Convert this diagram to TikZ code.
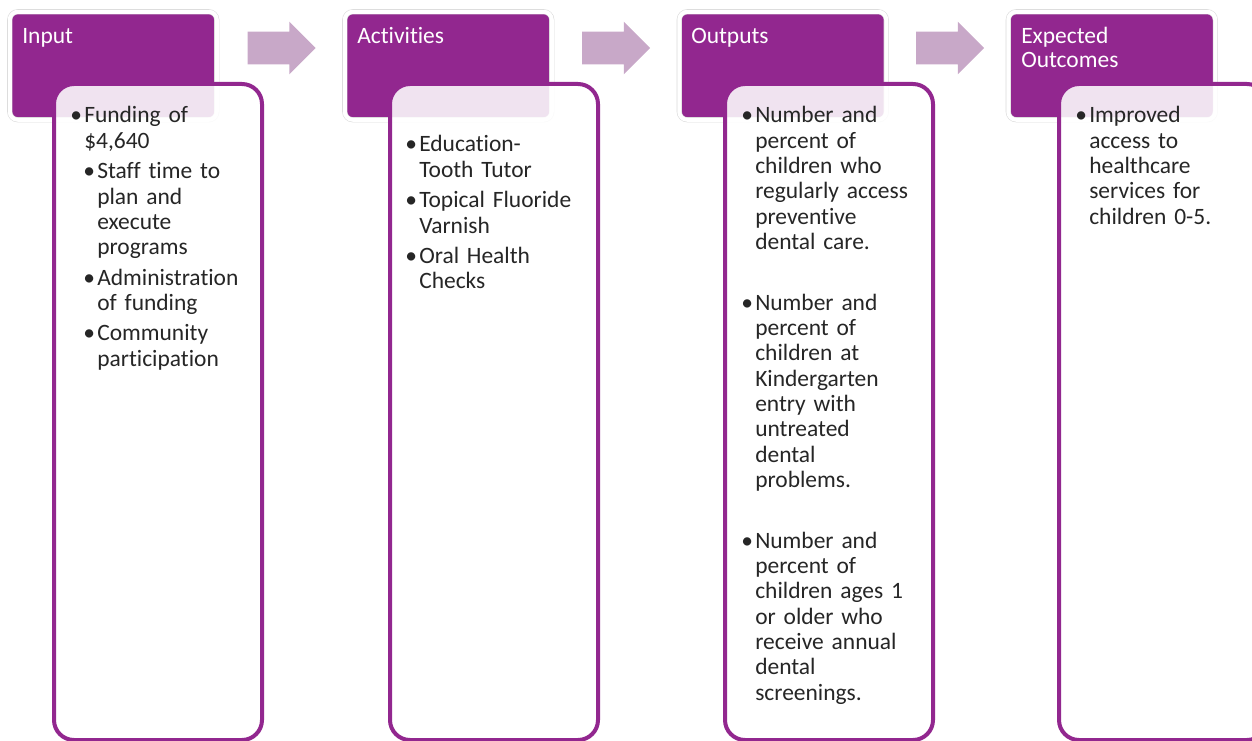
\documentclass[tikz,border=0pt]{standalone}
\usepackage{fontspec}
\setmainfont{Carlito}[Ligatures=CommonOff]
\usetikzlibrary{shapes.arrows}
\definecolor{plum}{HTML}{92278F}
\definecolor{mauve}{HTML}{C8A8C8}
\newcommand\bul{\makebox[10.5pt][l]{\textbullet}}
\newcommand\ind[1]{\hspace*{#1}}

\begin{document}
\begin{tikzpicture}[x=0.75pt, y=-0.75pt,
    hdbox/.style={anchor=north west, fill=plum, draw=black!15, double=white,
      double distance=3pt, line width=0.4pt, rounded corners=6pt,
      minimum width=155.25pt, minimum height=81pt, inner sep=0pt},
    bdbox/.style={anchor=north west, draw=plum, line width=3pt, fill=white,
      fill opacity=0.87, rounded corners=15pt,
      minimum width=156pt, minimum height=492pt, inner sep=0pt},
    hdtext/.style={anchor=base west, inner sep=0pt, text=white, align=left,
      font=\fontsize{17.6pt}{18.5pt}\selectfont},
    bdtext/.style={anchor=base west, inner sep=0pt, text=black!85, align=left,
      text width=200pt, font=\fontsize{17.6pt}{19pt}\selectfont},
    arr/.style={single arrow, fill=mauve, draw=none, single arrow tip angle=90,
      single arrow head extend=7.5pt, minimum height=51pt, minimum width=39pt,
      inner xsep=0pt, inner ysep=12pt}]
  \useasboundingbox (0,0) rectangle (1252,741);
  \clip (0,0) rectangle (1252,741);

  % headers
  \node[hdbox] (hd1) at (9.5,11.5) {};
  \node[hdbox] (hd2) at (344.5,11.5) {};
  \node[hdbox] (hd3) at (679,11.5) {};
  \node[hdbox] (hd4) at (1008,11.5) {};
  \node[hdtext] (t1) at (22,44) {Input};
  \node[hdtext] (t2) at (357,44) {Activities};
  \node[hdtext] (t3) at (691,44) {Outputs};
  \node[hdtext] (t4) at (1021,68) {Expected\\Outcomes};

  % arrows
  \node[arr] (ar1) at (273.5,48) {};
  \node[arr] (ar2) at (608,48) {};
  \node[arr] (ar3) at (942,48) {};

  % bodies
  \node[bdbox] (bd1) at (52,82) {};
  \node[bdbox] (bd2) at (388,82) {};
  \node[bdbox] (bd3) at (723,82) {};
  \node[bdbox] (bd4) at (1057,82) {};

  \node[bdtext] (x1) at (70,123) {\bul Funding of\\
    \ind{10.5pt}\$4,640\\[3.8pt]
    \ind{9.75pt}\bul Staff time to\\
    \ind{20.25pt}plan and\\
    \ind{20.25pt}execute\\
    \ind{20.25pt}programs\\[3.8pt]
    \ind{9.75pt}\bul Administration\\
    \ind{20.25pt}of funding\\[3.8pt]
    \ind{9.75pt}\bul Community\\
    \ind{20.25pt}participation};
  \node[bdtext] (x2) at (405,152) {\bul Education-\\
    \ind{10.5pt}Tooth Tutor\\[3.8pt]
    \bul Topical Fluoride\\
    \ind{10.5pt}Varnish\\[3.8pt]
    \bul Oral Health\\
    \ind{10.5pt}Checks};
  \node[bdtext] (x3) at (741,123) {\bul Number and\\
    \ind{10.5pt}percent of\\
    \ind{10.5pt}children who\\
    \ind{10.5pt}regularly access\\
    \ind{10.5pt}preventive\\
    \ind{10.5pt}dental care.\\[26.4pt]
    \bul Number and\\
    \ind{10.5pt}percent of\\
    \ind{10.5pt}children at\\
    \ind{10.5pt}Kindergarten\\
    \ind{10.5pt}entry with\\
    \ind{10.5pt}untreated\\
    \ind{10.5pt}dental\\
    \ind{10.5pt}problems.\\[26.4pt]
    \bul Number and\\
    \ind{10.5pt}percent of\\
    \ind{10.5pt}children ages 1\\
    \ind{10.5pt}or older who\\
    \ind{10.5pt}receive annual\\
    \ind{10.5pt}dental\\
    \ind{10.5pt}screenings.};
  \node[bdtext] (x4) at (1075,123) {\bul Improved\\
    \ind{10.5pt}access to\\
    \ind{10.5pt}healthcare\\
    \ind{10.5pt}services for\\
    \ind{10.5pt}children 0-5.};
\end{tikzpicture}
\end{document}
